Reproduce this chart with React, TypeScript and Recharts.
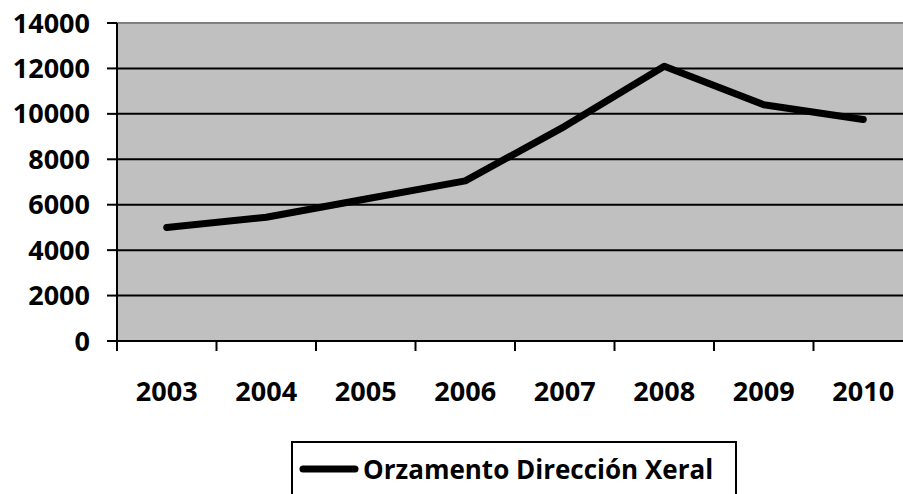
import {
  LineChart,
  Line,
  CartesianGrid,
  XAxis,
  YAxis,
  Legend,
  ReferenceLine,
} from "recharts";

// Budget line over 2003–2010, Excel-2003 look: grey plot area, black grid.

const years = ["2003", "2004", "2005", "2006", "2007", "2008", "2009", "2010"];
const budget = [5000, 5450, 6250, 7050, 9450, 12100, 10400, 9750];
const yTicks = [0, 2000, 4000, 6000, 8000, 10000, 12000, 14000];
const bandEdges = [0, 1, 2, 3, 4, 5, 6, 7, 8];
const seriesName = "Orzamento Dirección Xeral";

const data = years.map((year, i) => ({ year, value: budget[i] }));

const FONT = "'Open Sans', 'Noto Sans', sans-serif";
const tickStyle = { fill: "#000", fontSize: 27, fontWeight: 700, fontFamily: FONT };

const noLabel = () => <g />;

function LegendBox() {
  return (
    <div
      style={{
        boxSizing: "border-box",
        width: 446,
        height: 56,
        border: "2px solid #000",
        display: "flex",
        alignItems: "center",
        paddingLeft: 6,
        background: "#fff",
      }}
    >
      <svg width={60} height={10} style={{ flex: "none" }}>
        <line x1={4} y1={5} x2={56} y2={5} stroke="#000" strokeWidth={7} strokeLinecap="round" />
      </svg>
      <span
        style={{
          fontFamily: FONT,
          fontWeight: 700,
          fontSize: 26,
          color: "#000",
          marginLeft: 4,
          whiteSpace: "nowrap",
        }}
      >
        {seriesName}
      </span>
    </div>
  );
}

export default function App() {
  return (
    <div
      style={{
        position: "absolute",
        left: 0,
        top: 0,
        width: 903,
        height: 494,
        overflow: "hidden",
        background: "#fff",
      }}
    >
      <LineChart
        width={920}
        height={497}
        data={data}
        margin={{ top: 23, right: 7, left: 0, bottom: 0 }}
      >
        <CartesianGrid
          xAxisId="b"
          vertical={false}
          stroke="#000"
          strokeWidth={2}
          fill="#c0c0c0"
          fillOpacity={1}
        />
        {/* axis "a": only the tick marks at the category boundaries.
            A dataKey is needed, otherwise recharts falls back to row indexes
            and ignores the [0, 8] domain. */}
        <XAxis
          xAxisId="a"
          dataKey={() => 0}
          type="number"
          scale="linear"
          domain={[0, years.length]}
          allowDataOverflow
          ticks={bandEdges}
          tick={noLabel}
          tickSize={10}
          height={10}
          axisLine={{ stroke: "#000", strokeWidth: 2 }}
          tickLine={{ stroke: "#000", strokeWidth: 2 }}
        />
        {/* axis "b": the year labels, centred in each band */}
        <XAxis
          xAxisId="b"
          dataKey="year"
          type="category"
          scale="band"
          axisLine={false}
          tickLine={false}
          tickSize={0}
          tickMargin={31}
          height={90}
          interval={0}
          tick={tickStyle}
        />
        <YAxis
          domain={[0, 14000]}
          ticks={yTicks}
          width={117}
          tickSize={10}
          tickMargin={17}
          axisLine={{ stroke: "#000", strokeWidth: 2 }}
          tickLine={{ stroke: "#000", strokeWidth: 2 }}
          tick={tickStyle}
          interval={0}
        />
        <ReferenceLine xAxisId="b" y={14000} stroke="#808080" strokeWidth={2} />
        <Line
          xAxisId="b"
          type="linear"
          dataKey="value"
          name={seriesName}
          stroke="#000"
          strokeWidth={7}
          strokeLinecap="round"
          strokeLinejoin="round"
          dot={false}
          activeDot={false}
          isAnimationActive={false}
        />
        <Legend
          verticalAlign="bottom"
          content={() => <LegendBox />}
          wrapperStyle={{ left: 291, width: 446 }}
        />
      </LineChart>
    </div>
  );
}
